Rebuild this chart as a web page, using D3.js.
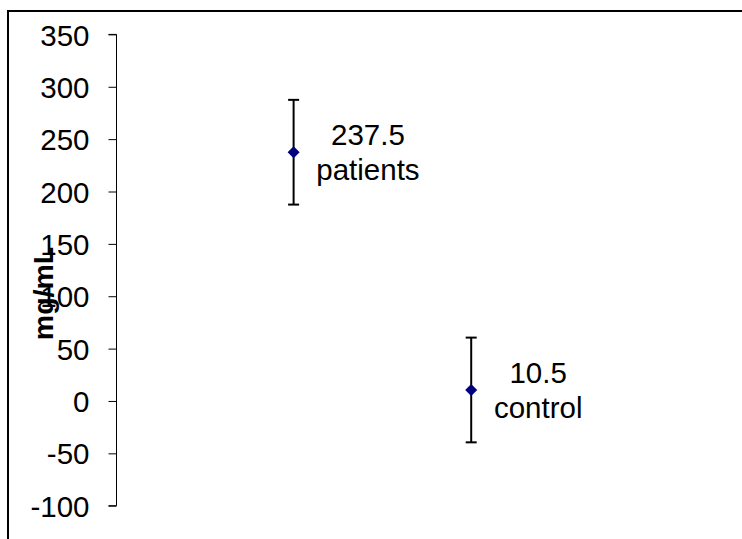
<!DOCTYPE html>
<html>
<head>
<meta charset="utf-8">
<script src="https://cdn.jsdelivr.net/npm/d3@7"></script>
<style>
  html, body { margin: 0; padding: 0; background: #fff; }
  svg { display: block; font-family: "Liberation Sans", Arial, sans-serif; }
</style>
</head>
<body>
<svg id="chart" width="742" height="539"></svg>
<script>
// Group names, means and error half-widths
const groups = ["patients", "control"];
const positions = [1, 2];
const means = [237.5, 10.5];
const errors = [50, 50];
const yTicks = [-100, -50, 0, 50, 100, 150, 200, 250, 300, 350];
const yTitle = "mg/mL";

const fontSize = 29.5;
const svg = d3.select("#chart");

// Outer frame (runs off the right and bottom edges)
svg.append("rect")
  .attr("x", 8).attr("y", 11)
  .attr("width", 760).attr("height", 560)
  .attr("fill", "none").attr("stroke", "#000").attr("stroke-width", 2);

const axisX = 116;
const x = d3.scaleLinear().domain([0, 3.5]).range([axisX, axisX + 3.5 * 177.6]);
const y = d3.scaleLinear().domain([-100, 350]).range([505.7, 34.4]);

// Y axis
const yAxis = d3.axisLeft(y).tickValues(yTicks).tickSize(8).tickPadding(19)
  .tickFormat(d => String(d));
const gAxis = svg.append("g")
  .attr("transform", `translate(${axisX + 0.5},0)`)
  .call(yAxis);
gAxis.select(".domain").attr("stroke", "#000").attr("stroke-width", 1)
  .attr("d", `M-8,${y(350)}H0V${y(-100)}H-8`);
gAxis.selectAll(".tick line").attr("stroke", "#000");
gAxis.selectAll(".tick text")
  .attr("font-size", fontSize).attr("fill", "#000")
  .attr("font-family", "Liberation Sans, Arial, sans-serif")
  .attr("dy", "0.36em");

// Axis title
svg.append("text")
  .attr("transform", `translate(52.5,${293.5}) rotate(-90)`)
  .attr("text-anchor", "middle")
  .attr("font-size", 28.5).attr("font-weight", "bold")
  .text(yTitle);

// Error bars, markers and labels
const data = groups.map((g, i) => ({ g, px: positions[i], m: means[i], e: errors[i] }));
const cap = 5.5;

const pts = svg.append("g").selectAll("g").data(data).join("g");

pts.append("line")
  .attr("x1", d => x(d.px)).attr("x2", d => x(d.px))
  .attr("y1", d => y(d.m + d.e)).attr("y2", d => y(d.m - d.e))
  .attr("stroke", "#000").attr("stroke-width", 2);
pts.append("line")
  .attr("x1", d => x(d.px) - cap).attr("x2", d => x(d.px) + cap)
  .attr("y1", d => y(d.m + d.e)).attr("y2", d => y(d.m + d.e))
  .attr("stroke", "#000").attr("stroke-width", 2);
pts.append("line")
  .attr("x1", d => x(d.px) - cap).attr("x2", d => x(d.px) + cap)
  .attr("y1", d => y(d.m - d.e)).attr("y2", d => y(d.m - d.e))
  .attr("stroke", "#000").attr("stroke-width", 2);

pts.append("path")
  .attr("transform", d => `translate(${x(d.px)},${y(d.m)})`)
  .attr("d", "M0,-6L6,0L0,6L-6,0Z")
  .attr("fill", "#000080");

// Two-line label block placed to the right of each marker, lines centred in it
pts.each(function (d) {
  const g = d3.select(this);
  const lbl = g.append("text").attr("font-size", fontSize).attr("fill", "#000")
    .attr("text-anchor", "middle");
  const t1 = lbl.append("tspan").text(String(d.m));
  const t2 = lbl.append("tspan").text(d.g);
  const w = Math.max(t1.node().getComputedTextLength(), t2.node().getComputedTextLength());
  const cx = x(d.px) + 22.7 + w / 2;
  t1.attr("x", cx).attr("y", y(d.m) - 7);
  t2.attr("x", cx).attr("y", y(d.m) + 27.8);
});
</script>
</body>
</html>
